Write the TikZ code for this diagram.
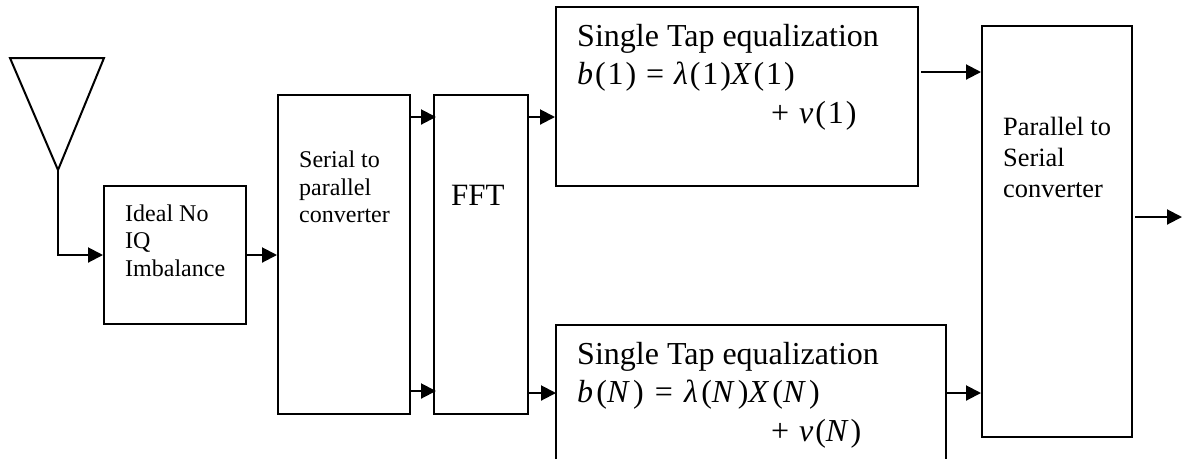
\documentclass[tikz,border=0pt]{standalone}
\usepackage{fontspec}
\setmainfont{Liberation Serif}
\newfontfamily\eqfont[LetterSpace=6]{Liberation Serif}
\newfontfamily\eqfontwide[LetterSpace=10]{Liberation Serif}
\newcommand{\ei}[1]{\textit{#1}}
\usetikzlibrary{arrows.meta}
\tikzset{
  wire/.style={line width=2pt,-{Triangle[length=15pt,width=15pt]}},
  blockbox/.style={draw=black,line width=2pt,rectangle,inner sep=0pt,anchor=north west},
  openbox/.style={rectangle,inner sep=0pt,anchor=north west,outer sep=0pt},
  txt/.style={inner sep=0pt,anchor=north west,align=left},
  small/.style={txt,font=\fontsize{24}{27.5}\selectfont},
  medium/.style={txt,font=\fontsize{26.4}{31}\selectfont},
  large/.style={txt,font=\fontsize{32}{38.5}\selectfont},
}
\begin{document}
\begin{tikzpicture}[x=1pt,y=-1pt]
\useasboundingbox (0,0) rectangle (1182,459);
% antenna
\coordinate (tl) at (10,58);
\coordinate (tr) at (104,58);
\coordinate (apex) at (58,170);
\draw[line width=2pt,line join=miter] (tl) -- (tr) -- (apex) -- cycle;
% blocks
\node[blockbox,minimum width=142pt,minimum height=138pt] (ideal) at (103,185) {};
\node[blockbox,minimum width=132pt,minimum height=319pt] (ser) at (277,94) {};
\node[blockbox,minimum width=94pt,minimum height=319pt] (fft) at (433,94) {};
\node[blockbox,minimum width=362pt,minimum height=179pt] (eqa) at (555,6) {};
\node[openbox,minimum width=390pt,minimum height=134pt] (eqb) at (556,325) {};
\draw[line width=2pt] (eqb.south west) -- (eqb.north west) -- (eqb.north east) -- (eqb.south east);
\node[blockbox,minimum width=150pt,minimum height=411pt] (par) at (981,25) {};
% texts
\node[small] (tideal) at (125,204.5) {Ideal No\\IQ\\Imbalance};
\node[small] (tser) at (299,151) {Serial to\\parallel\\converter};
\node[txt,font=\fontsize{31}{36}\selectfont] (tfft) at (451,185) {FFT};
\node[large] (teqa) at (577,24) {Single Tap equalization\\{\eqfont\ei{b}(1) = \ei{λ}(1)\ei{X}(1)}\\\hspace*{194pt}{\eqfont+ \ei{v}(1)}};
\node[large] (teqb) at (577,342) {Single Tap equalization\\{\eqfontwide\ei{b}(\ei{N}) = \ei{λ}(\ei{N})\ei{X}(\ei{N})}\\\hspace*{194pt}{\eqfont+ \ei{v}(\ei{N})}};
\node[medium] (tpar) at (1003,116.5) {Parallel to\\Serial\\converter};
% rows for connectors
\coordinate (rowa) at (0,117);
\coordinate (rowb) at (0,391);
\coordinate (rowc) at (0,393);
\coordinate (rowd) at (0,72);
\coordinate (rowe) at (0,255);
\coordinate (outend) at (1182,217);
\coordinate (rowg) at (921,72);
\coordinate (rowh) at (1135,217);
% connectors
\draw[wire] (apex) |- (ideal.west |- rowe);
\draw[wire] (ideal.east |- rowe) -- (ser.west |- rowe);
\draw[wire,shorten >=-3pt] (ser.east |- rowa) -- (fft.west |- rowa);
\draw[wire,shorten >=-3pt] (ser.east |- rowb) -- (fft.west |- rowb);
\draw[wire] (fft.east |- rowa) -- (eqa.west |- rowa);
\draw[wire] (fft.east |- rowc) -- (eqb.west |- rowc);
\draw[wire] (rowg) -- (par.west |- rowd);
\draw[wire] (eqb.east |- rowc) -- (par.west |- rowc);
\draw[wire] (rowh) -- (outend);
\end{tikzpicture}
\end{document}
